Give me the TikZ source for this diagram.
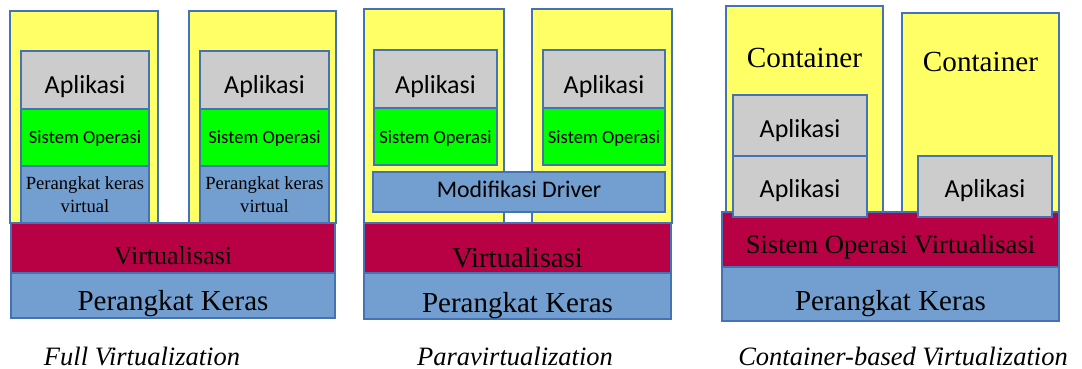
\documentclass[tikz,border=0pt]{standalone}
\usepackage{fontspec}
\setmainfont{Liberation Serif}
\newfontfamily\calfont{Carlito}
\definecolor{edge}{RGB}{68,114,180}
\definecolor{yel}{RGB}{255,255,102}
\definecolor{gry}{RGB}{204,204,204}
\definecolor{grn}{RGB}{0,255,0}
\definecolor{blu}{RGB}{114,159,207}
\definecolor{crim}{RGB}{184,0,68}
\tikzset{
  box/.style={draw=edge, line width=1.4pt, anchor=north west, inner sep=0pt, outer sep=0pt},
  ybox/.style={box, fill=yel},
  gbox/.style={box, fill=gry},
  obox/.style={box, fill=grn},
  bbox/.style={box, fill=blu},
  rbox/.style={box, fill=crim},
  lbl/.style={anchor=base, inner sep=0pt, text=black},
  sansA/.style={lbl, font=\calfont\fontsize{26}{28}\selectfont},
  sansB/.style={lbl, font=\calfont\fontsize{18.6}{20}\selectfont},
  sansC/.style={lbl, font=\calfont\fontsize{23.8}{26}\selectfont},
  serS/.style={lbl, font=\fontsize{18.6}{20}\selectfont},
  captxt/.style={lbl, font=\itshape\fontsize{26.5}{28}\selectfont},
}
\begin{document}
\begin{tikzpicture}[x=1pt,y=-1pt]
\useasboundingbox (0,0) rectangle (1082,369);
% ---------- Panel 1: Full Virtualization ----------
\node[ybox, minimum width=148, minimum height=212] (f1y) at (10,11) {};
\node[ybox, minimum width=147, minimum height=212] (f2y) at (189,11) {};
\node[gbox, minimum width=128, minimum height=58] (f1a) at (21,51) {};
\node[obox, minimum width=128, minimum height=57] (f1o) at (21,109) {};
\node[bbox, minimum width=128, minimum height=57] (f1h) at (21,166) {};
\node[gbox, minimum width=129, minimum height=58] (f2a) at (200,51) {};
\node[obox, minimum width=129, minimum height=57] (f2o) at (200,109) {};
\node[bbox, minimum width=129, minimum height=57] (f2h) at (200,166) {};
\node[rbox, minimum width=324, minimum height=50] (fv) at (11,223) {};
\node[bbox, minimum width=324, minimum height=45] (fk) at (11,273) {};
\node[sansA] (f1at) at (f1a.center |- 0,94) {Aplikasi};
\node[sansA] (f2at) at (f2a.center |- 0,94) {Aplikasi};
\node[sansB] (f1ot) at (f1o.center |- 0,143) {Sistem Operasi};
\node[sansB] (f2ot) at (f2o.center |- 0,143) {Sistem Operasi};
\node[serS] (f1ht) at (f1h.center |- 0,189) {Perangkat keras};
\node[serS] (f1hu) at (f1h.center |- 0,212) {virtual};
\node[serS] (f2ht) at (f2h.center |- 0,189) {Perangkat keras};
\node[serS] (f2hu) at (f2h.center |- 0,212) {virtual};
\node[lbl, font=\fontsize{26}{28}\selectfont] (fvt) at (fv.center |- 0,264) {Virtualisasi};
\node[lbl, font=\fontsize{29}{31}\selectfont] (fkt) at (fk.center |- 0,310) {Perangkat Keras};
\node[captxt] (fcap) at (142,365) {Full Virtualization};
% ---------- Panel 2: Paravirtualization ----------
\node[ybox, minimum width=140, minimum height=214] (p1y) at (364,9) {};
\node[ybox, minimum width=140, minimum height=214] (p2y) at (532,9) {};
\node[gbox, minimum width=123, minimum height=58] (p1a) at (374,50) {};
\node[obox, minimum width=123, minimum height=57] (p1o) at (374,108) {};
\node[gbox, minimum width=122, minimum height=58] (p2a) at (543,50) {};
\node[obox, minimum width=122, minimum height=57] (p2o) at (543,108) {};
\node[bbox, minimum width=292, minimum height=40] (pd) at (373,172) {};
\node[rbox, minimum width=307, minimum height=50] (pv) at (364,223) {};
\node[bbox, minimum width=307, minimum height=46] (pk) at (364,273) {};
\node[sansA] (p1at) at (p1a.center |- 0,93) {Aplikasi};
\node[sansA] (p2at) at (p2a.center |- 0,93) {Aplikasi};
\node[sansB] (p1ot) at (p1o.center |- 0,143) {Sistem Operasi};
\node[sansB] (p2ot) at (p2o.center |- 0,143) {Sistem Operasi};
\node[sansC] (pdt) at (pd.center |- 0,197) {Modifikasi Driver};
\node[lbl, font=\fontsize{28.7}{31}\selectfont] (pvt) at (pv.center |- 0,267) {Virtualisasi};
\node[lbl, font=\fontsize{29}{31}\selectfont] (pkt) at (pk.center |- 0,312) {Perangkat Keras};
\node[captxt] (pcap) at (515,365) {Paravirtualization};
% ---------- Panel 3: Container-based Virtualization ----------
\node[ybox, minimum width=157, minimum height=206] (c1y) at (726,6) {};
\node[ybox, minimum width=157, minimum height=199] (c2y) at (902,13) {};
\node[rbox, minimum width=337, minimum height=55] (cv) at (722,212) {};
\node[bbox, minimum width=337, minimum height=54] (ck) at (722,267) {};
\node[gbox, minimum width=134, minimum height=61] (c1a) at (733,95) {};
\node[gbox, minimum width=134, minimum height=61] (c1b) at (733,156) {};
\node[gbox, minimum width=134, minimum height=61] (c2a) at (918,156) {};
\node[lbl, font=\fontsize{29.2}{31}\selectfont] (c1t) at (c1y.center |- 0,67) {Container};
\node[lbl, font=\fontsize{29.2}{31}\selectfont] (c2t) at (c2y.center |- 0,72) {Container};
\node[sansA] (c1at) at (c1a.center |- 0,137) {Aplikasi};
\node[sansA] (c1bt) at (c1b.center |- 0,197) {Aplikasi};
\node[sansA] (c2at) at (c2a.center |- 0,197) {Aplikasi};
\node[lbl, font=\fontsize{26.6}{28}\selectfont] (cvt) at (cv.center |- 0,253) {Sistem Operasi Virtualisasi};
\node[lbl, font=\fontsize{29}{31}\selectfont] (ckt) at (ck.center |- 0,310) {Perangkat Keras};
\node[captxt] (ccap) at (903,365) {Container-based Virtualization};
\end{tikzpicture}
\end{document}
